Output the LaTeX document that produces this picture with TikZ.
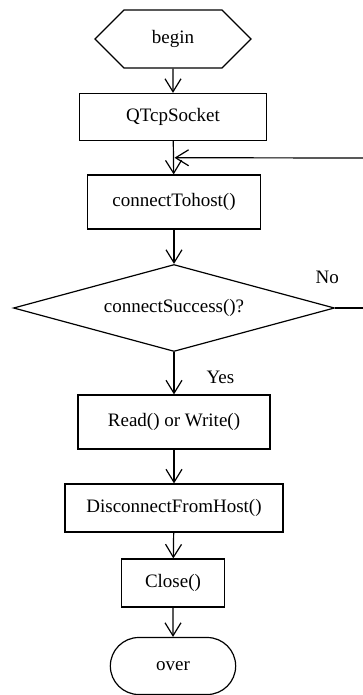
\documentclass[tikz,border=0pt]{standalone}
\usepackage{fontspec}
\setmainfont{Liberation Serif}
\usetikzlibrary{shapes.geometric, shapes.misc, shapes.symbols, arrows.meta, positioning, calc}
\tikzset{
  stepbox/.style  = {draw, rectangle, line width=1.2pt, inner sep=2pt},
  terminal/.style = {draw, rounded rectangle, line width=1.2pt,
                     minimum width=132pt, minimum height=57pt},
  startbox/.style = {draw, signal, signal to=east and west, signal pointer angle=90,
                     line width=1.2pt, minimum width=156pt, minimum height=58pt},
  decision/.style = {draw, diamond, aspect=3.7, line width=1.2pt, inner sep=0pt,
                     minimum width=321pt, minimum height=87pt},
  flow/.style     = {-{Straight Barb[length=13pt, width=16pt]}, line width=1.2pt},
  link/.style     = {line width=1.2pt}
}

\begin{document}
\begin{tikzpicture}[x=1pt, y=1pt, font=\fontsize{19}{21}\selectfont]
\useasboundingbox (0,0) rectangle (363,-695);
\fill[white] (0,0) rectangle (363,-695);
% Nodes
\node[startbox] (begin) at (173,-39) {begin};
\node[stepbox, minimum width=187pt, minimum height=47pt] (socket) at (173,-117) {QTcpSocket};
\node[stepbox, minimum width=173pt, minimum height=54pt] (connect) at (174,-202) {connectTohost()};
\node[decision] (success) at (174,-308) {connectSuccess()?};
\node[stepbox, minimum width=192pt, minimum height=54pt] (rw) at (174,-422) {Read() or Write()};
\node[stepbox, minimum width=218pt, minimum height=48pt] (disc) at (174,-508) {DisconnectFromHost()};
\node[stepbox, minimum width=103pt, minimum height=48pt] (close) at (173,-583) {Close()};
\node[terminal] (over) at (173,-666) {over};
% Labels
\node[anchor=west] (yes) at (203,-377) {Yes};
\node[anchor=west] (no) at (312,-277) {No};
% Connectors
\coordinate (join) at ($(socket.south)!0.5!(connect.north)$);
\coordinate (back) at (372,-158);
\draw[flow] (begin) -- (socket);
\draw[flow] (socket) -- (connect);
\draw[flow] (connect) -- (success);
\draw[flow] (success) -- (rw);
\draw[flow] (rw) -- (disc);
\draw[flow] (disc) -- (close);
\draw[flow] (close) -- (over);
\draw[link] (success.east) -| (back);
\draw[flow] (back) -- ($(join)+(1,0)$);
\end{tikzpicture}
\end{document}
